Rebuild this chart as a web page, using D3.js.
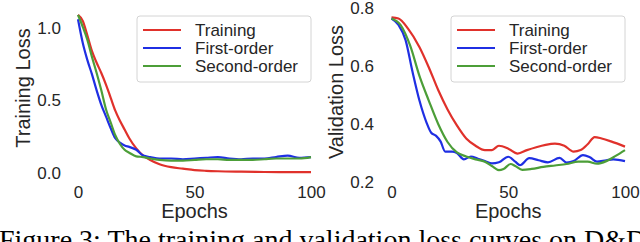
<!DOCTYPE html>
<html lang="en">
  <head>
    <meta charset="utf-8">
    <title>Training and validation loss</title>
    <script src="https://d3js.org/d3.v7.js"></script>
    <style>
      body { margin: 0; background: white; }
      svg { display: block; }
    </style>
  </head>

  <body>
    <svg></svg>

  <script>

// data

  const seriesNames = ["Training", "First-order", "Second-order"];
  const seriesColors = ["#e0312b", "#1f2fe3", "#4c9e38"];

  // left panel: training loss
  const trainRedEpoch   = [0, 2, 4, 6, 8, 10, 12, 14, 16, 18, 20, 22, 25, 28, 31, 35, 40, 45, 50, 55, 60, 70, 80, 90, 100];
  const trainRedValue   = [1.09, 1.05, 0.95, 0.84, 0.76, 0.69, 0.61, 0.52, 0.43, 0.36, 0.30, 0.24, 0.17, 0.12, 0.09, 0.06, 0.04, 0.03, 0.02, 0.015, 0.012, 0.009, 0.007, 0.006, 0.006];

  const trainBlueEpoch  = [0, 2, 4, 6, 8, 10, 12, 14, 16, 18, 20, 22, 25, 28, 31, 35, 40, 45, 50, 55, 60, 65, 70, 75, 80, 85, 90, 95, 100];
  const trainBlueValue  = [1.06, 0.90, 0.78, 0.68, 0.57, 0.47, 0.39, 0.31, 0.24, 0.21, 0.19, 0.18, 0.16, 0.12, 0.11, 0.10, 0.10, 0.095, 0.10, 0.105, 0.11, 0.10, 0.095, 0.10, 0.10, 0.11, 0.12, 0.105, 0.11];

  const trainGreenEpoch = [0, 2, 4, 6, 8, 10, 12, 14, 16, 18, 20, 22, 25, 28, 31, 35, 40, 45, 50, 55, 60, 65, 70, 75, 80, 85, 90, 95, 100];
  const trainGreenValue = [1.09, 1.01, 0.92, 0.80, 0.69, 0.57, 0.44, 0.35, 0.26, 0.20, 0.16, 0.14, 0.115, 0.11, 0.10, 0.09, 0.085, 0.085, 0.09, 0.095, 0.095, 0.09, 0.09, 0.09, 0.095, 0.10, 0.10, 0.10, 0.11];

  // right panel: validation loss
  const valRedEpoch   = [0, 3, 7, 12, 16, 20, 24, 28, 32, 36, 40, 43, 46, 50, 54, 58, 62, 66, 70, 74, 78, 81, 84, 87, 90, 94, 100];
  const valRedValue   = [0.768, 0.764, 0.73, 0.665, 0.595, 0.517, 0.45, 0.395, 0.35, 0.325, 0.31, 0.31, 0.325, 0.315, 0.298, 0.31, 0.32, 0.328, 0.332, 0.325, 0.305, 0.31, 0.33, 0.355, 0.35, 0.34, 0.322];

  const valBlueEpoch  = [0, 3, 6, 9, 12, 15, 17, 19, 21, 23, 26, 28, 31, 34, 37, 40, 43, 46, 50, 53, 55, 59, 63, 67, 72, 75, 78, 82, 85, 88, 92, 95, 100];
  const valBlueValue  = [0.764, 0.742, 0.69, 0.58, 0.48, 0.405, 0.37, 0.36, 0.34, 0.305, 0.305, 0.30, 0.278, 0.288, 0.28, 0.272, 0.264, 0.268, 0.287, 0.27, 0.258, 0.282, 0.275, 0.268, 0.283, 0.267, 0.272, 0.293, 0.285, 0.27, 0.275, 0.278, 0.272];

  const valGreenEpoch = [0, 4, 8, 12, 16, 20, 24, 28, 32, 36, 40, 43, 46, 48, 51, 53, 56, 60, 65, 70, 75, 80, 84, 88, 92, 96, 100];
  const valGreenValue = [0.764, 0.74, 0.67, 0.565, 0.48, 0.40, 0.338, 0.302, 0.288, 0.278, 0.27, 0.255, 0.241, 0.245, 0.262, 0.255, 0.242, 0.245, 0.252, 0.257, 0.262, 0.27, 0.27, 0.263, 0.272, 0.29, 0.31];

  const xTicks = [0, 50, 100];
  const trainTicks = [0.0, 0.5, 1.0];
  const valTicks = [0.2, 0.4, 0.6, 0.8];

  const caption = "Figure 3: The training and validation loss curves on D&D";

// build the series tables

  const zip = (ep, val) => ep.map((e, i) => ({epoch: e, value: val[i]}));

  const trainSeries = [
    zip(trainRedEpoch, trainRedValue),
    zip(trainBlueEpoch, trainBlueValue),
    zip(trainGreenEpoch, trainGreenValue)
  ];
  const valSeries = [
    zip(valRedEpoch, valRedValue),
    zip(valBlueEpoch, valBlueValue),
    zip(valGreenEpoch, valGreenValue)
  ];

// svg

  const w = 640;
  const h = 242;
  const font = "'Liberation Sans', Arial, sans-serif";
  const textColor = "#262626";

  const svg = d3.select("svg")
      .attr("width", w)
      .attr("height", h);

  svg.append("rect")
      .attr("width", w)
      .attr("height", h)
      .attr("fill", "white");

// one panel

  function drawPanel(p) {
    const xScale = d3.scaleLinear()
        .domain([0, 100])
        .range(p.xRange);

    const yScale = d3.scaleLinear()
        .domain(p.yDomain)
        .range(p.yRange);

    const g = svg.append("g");

    const line = d3.line()
        .x(d => xScale(d.epoch))
        .y(d => yScale(d.value))
        .curve(d3.curveMonotoneX);

    g.selectAll("path.curve")
      .data(p.series)
      .enter().append("path")
        .attr("class", "curve")
        .attr("d", line)
        .attr("fill", "none")
        .attr("stroke", (d, i) => seriesColors[i])
        .attr("stroke-width", 2.2)
        .attr("stroke-linejoin", "round");

    // axes without spines or ticks
    const xAxis = d3.axisBottom(xScale)
        .tickValues(xTicks)
        .tickSize(0)
        .tickPadding(0)
        .tickFormat(d3.format("d"));

    const xg = g.append("g")
        .attr("transform", `translate(0, ${p.xLabelY})`)
        .call(xAxis)
        .call(a => a.select(".domain").remove());

    xg.selectAll(".tick text")
        .attr("y", 0)
        .attr("dy", "0.35em");

    const yAxis = d3.axisLeft(yScale)
        .tickValues(p.yTicks)
        .tickSize(0)
        .tickPadding(0)
        .tickFormat(d3.format(".1f"));

    g.append("g")
        .attr("transform", `translate(${p.yLabelX}, 0)`)
        .call(yAxis)
        .call(a => a.select(".domain").remove());

    g.selectAll(".tick text")
        .attr("font-family", font)
        .attr("font-size", 17)
        .attr("fill", textColor);

    // axis titles
    g.append("text")
        .attr("x", (p.xRange[0] + p.xRange[1]) / 2)
        .attr("y", 218)
        .attr("text-anchor", "middle")
        .attr("font-family", font)
        .attr("font-size", 20)
        .attr("fill", textColor)
        .text("Epochs");

    g.append("text")
        .attr("transform", `translate(${p.titleX}, ${p.titleY}) rotate(-90)`)
        .attr("text-anchor", "middle")
        .attr("font-family", font)
        .attr("font-size", 20)
        .attr("fill", textColor)
        .text(p.title);

    // legend
    const lg = g.append("g")
        .attr("transform", `translate(${p.legendX}, 16)`);

    lg.append("rect")
        .attr("width", 174)
        .attr("height", 66)
        .attr("rx", 3)
        .attr("fill", "white")
        .attr("fill-opacity", 0.85)
        .attr("stroke", "#d4d4d4")
        .attr("stroke-width", 1);

    const rows = lg.selectAll("g.row")
      .data(seriesNames)
      .enter().append("g")
        .attr("class", "row")
        .attr("transform", (d, i) => `translate(0, ${14 + i * 18})`);

    rows.append("line")
        .attr("x1", 6)
        .attr("x2", 44)
        .attr("stroke", (d, i) => seriesColors[i])
        .attr("stroke-width", 2.2);

    rows.append("text")
        .attr("x", 58)
        .attr("dy", "0.35em")
        .attr("font-family", font)
        .attr("font-size", 17)
        .attr("fill", textColor)
        .text(d => d);
  }

  drawPanel({
    series: trainSeries,
    xRange: [78, 311],
    yDomain: [0, 1],
    yRange: [173, 28],
    yTicks: trainTicks,
    xLabelY: 192,
    yLabelX: 61,
    title: "Training Loss",
    titleX: 30,
    titleY: 88,
    legendX: 137
  });

  drawPanel({
    series: valSeries,
    xRange: [391.5, 625],
    yDomain: [0.2, 0.8],
    yRange: [182, 8],
    yTicks: valTicks,
    xLabelY: 192,
    yLabelX: 374,
    title: "Validation Loss",
    titleX: 343,
    titleY: 92,
    legendX: 451
  });

// caption

  svg.append("text")
      .attr("x", -1)
      .attr("y", 249)
      .attr("font-family", "'Liberation Serif', 'Times New Roman', serif")
      .attr("font-size", 28)
      .attr("fill", "black")
      .text(caption);

    </script>

  </body>

</html>
